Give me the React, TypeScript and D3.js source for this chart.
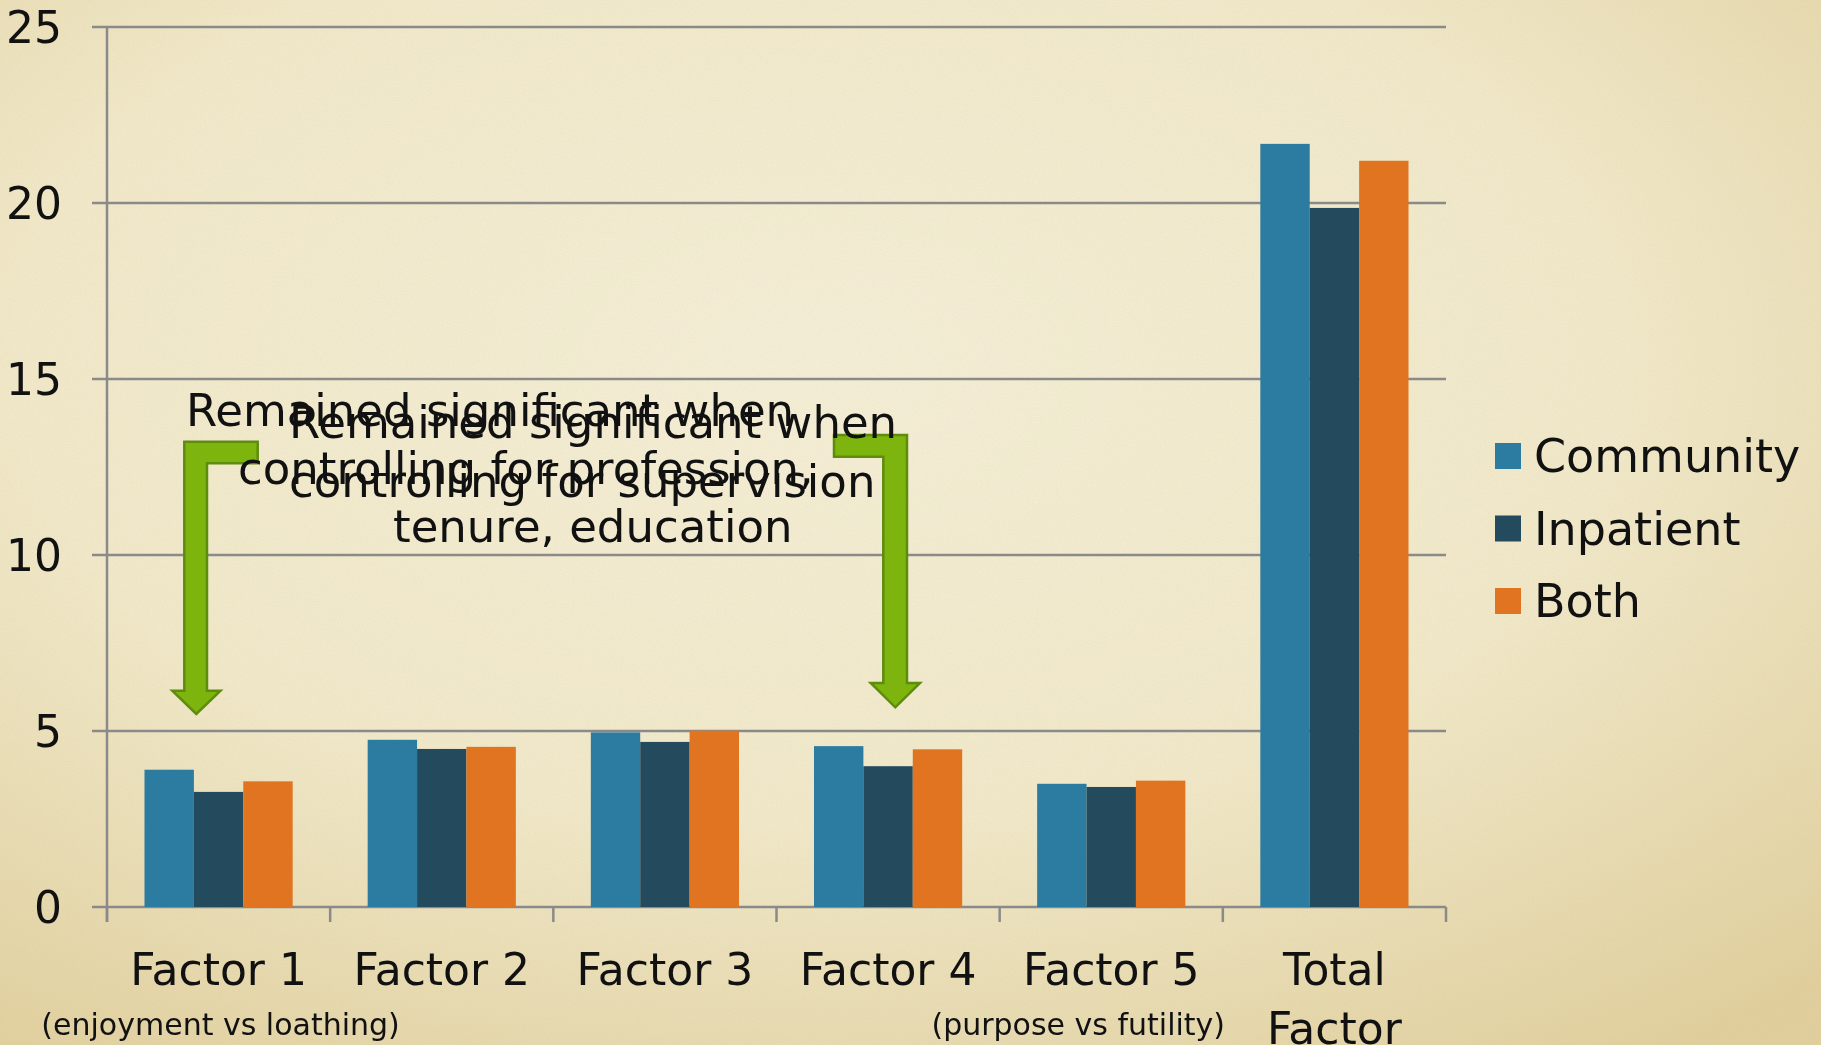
import React, {useEffect} from 'react';
import * as d3 from 'd3';

// chart values
const categories = ["Factor 1", "Factor 2", "Factor 3", "Factor 4", "Factor 5", "Total Factor"];
const labelLines = [["Factor 1"], ["Factor 2"], ["Factor 3"], ["Factor 4"], ["Factor 5"], ["Total", "Factor"]];
const subLabels = ["(enjoyment vs loathing)", "", "", "", "(purpose vs futility)", ""];
const seriesNames = ["Community", "Inpatient", "Both"];
const community = [3.9, 4.75, 4.96, 4.57, 3.5, 21.68];
const inpatient = [3.27, 4.49, 4.69, 4.0, 3.41, 19.86];
const both = [3.57, 4.55, 5.01, 4.48, 3.59, 21.2];
const yTicks = [0, 5, 10, 15, 20, 25];
const noteA = ["Remained significant when", "controlling for profession,", "tenure, education"];
const noteB = ["Remained significant when", "controlling for supervision"];

const colors = ["#2C7BA1", "#244B5D", "#E07420"];
const FONT = "'DejaVu Sans', sans-serif";

export default () => {
    const width = 1821;
    const height = 1045;
    const left = 107, right = 1446, top = 27, bottom = 907;

    useEffect(() => {
        document.body.style.margin = "0";
    }, []);

    const series = [community, inpatient, both];
    const x0 = d3.scaleBand().domain(categories).range([left, right]).paddingInner(0.336).paddingOuter(0.168);
    const x1 = d3.scaleBand().domain(seriesNames).range([0, x0.bandwidth()]);
    const y = d3.scaleLinear().domain([0, 25]).range([bottom, top]);
    const step = x0.step();
    const boundaries = d3.range(categories.length + 1).map(i => left + i * step);

    // bent arrows (annotation shapes)
    const arrowLeft = [[257.7, 441.7], [184.3, 441.7], [184.3, 690.7], [172.3, 690.7], [196.3, 714], [220.5, 690.7], [207, 690.7], [207, 463.3], [257.7, 463.3]];
    const arrowRight = [[834, 435], [907, 435], [907, 683], [920, 683], [895.3, 707.3], [870.7, 683], [883.3, 683], [883.3, 456.7], [834, 456.7]];
    const poly = d3.line();

    return (
        <svg width={width} height={height} style={{display: 'block', position: 'fixed', left: 0, top: 0}} fontFamily={FONT}>
            <defs>
                <radialGradient id="paper" cx="45%" cy="35%" r="80%">
                    <stop offset="0" stopColor="#F5EFD8" />
                    <stop offset="0.55" stopColor="#F1E9CA" />
                    <stop offset="1" stopColor="#E1D09E" />
                </radialGradient>
                <filter id="grain" x="0" y="0" width="100%" height="100%">
                    <feTurbulence type="fractalNoise" baseFrequency="0.8" numOctaves="2" seed="3" />
                    <feColorMatrix type="matrix" values="0 0 0 0 0.55  0 0 0 0 0.45  0 0 0 0 0.25  0 0 0 0.35 -0.08" />
                </filter>
            </defs>
            <rect width={width} height={height} fill="url(#paper)" />
            <rect width={width} height={height} filter="url(#grain)" opacity="0.5" />

            {/* gridlines + y labels */}
            {yTicks.map(t => (
                <g key={t}>
                    <line x1={92} x2={right} y1={y(t)} y2={y(t)} stroke="#8A8A8A" strokeWidth={2.5} />
                    <text x={62} y={y(t)} dy="0.36em" textAnchor="end" fontSize={44} fill="#111">{t}</text>
                </g>
            ))}
            <line x1={left} x2={left} y1={top} y2={bottom + 15} stroke="#8A8A8A" strokeWidth={2.5} />
            {boundaries.map((b, i) => (
                <line key={i} x1={b} x2={b} y1={bottom} y2={bottom + 15} stroke="#8A8A8A" strokeWidth={2.5} />
            ))}

            {/* bars */}
            {categories.map((c, i) => (
                <g key={c} transform={`translate(${x0(c)},0)`}>
                    {seriesNames.map((s, j) => (
                        <rect key={s} x={x1(s)} y={y(series[j][i])} width={x1.bandwidth()} height={bottom - y(series[j][i])} fill={colors[j]} />
                    ))}
                </g>
            ))}

            {/* category labels */}
            {categories.map((c, i) => {
                const cx = x0(c) + x0.bandwidth() / 2;
                return (
                    <g key={c}>
                        {labelLines[i].map((l, k) => (
                            <text key={k} x={cx} y={985 + k * 59} textAnchor="middle" fontSize={44} fill="#111">{l}</text>
                        ))}
                        {subLabels[i] && (
                            <text x={cx + (i === 4 ? -33 : 2)} y={1035} textAnchor="middle" fontSize={30} fill="#111">{subLabels[i]}</text>
                        )}
                    </g>
                );
            })}

            {/* arrows */}
            <path d={poly(arrowLeft) + "Z"} fill="#7DB40E" stroke="#5E8C0C" strokeWidth={2.5} strokeLinejoin="miter" />
            <path d={poly(arrowRight) + "Z"} fill="#7DB40E" stroke="#5E8C0C" strokeWidth={2.5} strokeLinejoin="miter" />

            {/* annotations */}
            {noteA.map((l, k) => (
                <text key={k} x={[186, 238, 393][k]} y={426 + k * 57.8} fontSize={45} fill="#111">{l}</text>
            ))}
            {noteB.map((l, k) => (
                <text key={k} x={289} y={438 + k * 58.7} fontSize={45} fill="#111">{l}</text>
            ))}

            {/* legend */}
            {seriesNames.map((s, j) => (
                <g key={s} transform={`translate(1495,${443 + j * 72.5})`}>
                    <rect width={26} height={26} fill={colors[j]} />
                    <text x={39} y={29} fontSize={46} fill="#111">{s}</text>
                </g>
            ))}
        </svg>
    );
}
